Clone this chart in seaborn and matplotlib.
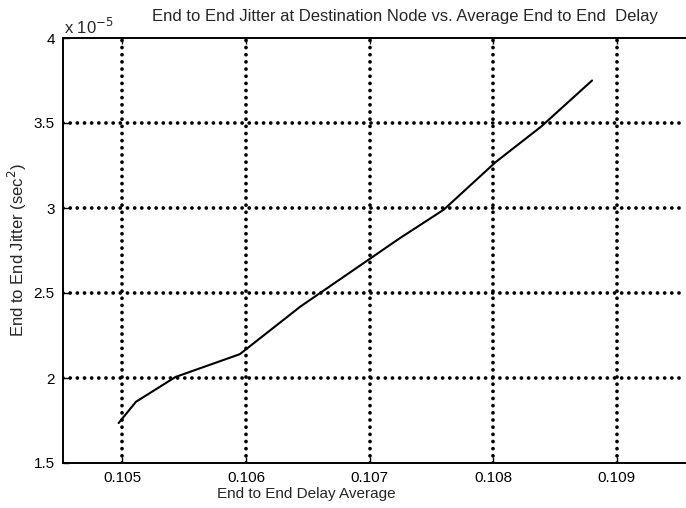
import matplotlib
matplotlib.use("Agg")
import matplotlib.pyplot as plt
import seaborn as sns
import pandas as pd
from matplotlib.ticker import FormatStrFormatter, FixedLocator

# Data (jitter in units of 1e-5 sec^2)
delay_avg = [0.10497, 0.10511, 0.10543, 0.10595, 0.10602, 0.10644, 0.10700,
             0.10724, 0.10760, 0.10802, 0.10839, 0.10880]
jitter = [1.735, 1.86, 2.006, 2.14, 2.18, 2.42, 2.70, 2.82, 2.99, 3.27, 3.48, 3.75]
x_ticks = [0.105, 0.106, 0.107, 0.108, 0.109]
y_ticks = [1.5, 2.0, 2.5, 3.0, 3.5, 4.0]

sns.set_style("white")
plt.rcParams['font.family'] = ['Liberation Sans', 'DejaVu Sans']

fig = plt.figure(figsize=(6.86, 5.08), dpi=100)
ax = fig.add_axes([63/686, 1-463/508, 1-63/686, (463-38)/508])

df = pd.DataFrame({"x": delay_avg, "y": jitter})
sns.lineplot(data=df, x="x", y="y", ax=ax, color="black", linewidth=1.5, sort=False,
             zorder=3)

ax.set_xlim(0.10452, 0.10956)
ax.set_ylim(1.5, 4.0)
ax.xaxis.set_major_locator(FixedLocator(x_ticks))
ax.yaxis.set_major_locator(FixedLocator(y_ticks))
ax.xaxis.set_major_formatter(FormatStrFormatter('%g'))
ax.yaxis.set_major_formatter(FormatStrFormatter('%g'))

grid_style = dict(color="black", linestyle=(0, (0.01, 1.9)), linewidth=2.7,
                  dash_capstyle="round", zorder=1)
for xv in x_ticks:
    ax.axvline(xv, **grid_style)
for yv in y_ticks[1:-1]:
    ax.axhline(yv, **grid_style)

ax.tick_params(direction="in", length=4, width=1, colors="black",
               labelsize=11, pad=6, top=True, bottom=True, left=True, right=False)
for s in ["left", "bottom", "top"]:
    ax.spines[s].set_color("black")
    ax.spines[s].set_linewidth(1.4)
    ax.spines[s].set_zorder(4)
ax.spines["right"].set_visible(False)

ax.set_xlabel("")
ax.set_ylabel("")
fig.text(306/686, 1-494/508, "End to End Delay Average", ha="center", va="center", fontsize=11)
fig.text(17/686, 1-250/508, "End to End Jitter (sec$^2$)", ha="center", va="center",
         rotation=90, fontsize=12)
fig.text(405/686, 1-16/508, "End to End Jitter at Destination Node vs. Average End to End  Delay",
         ha="center", va="center", fontsize=12)
fig.text(64/686, 1-27/508, "x 10$^{-5}$", ha="left", va="center", fontsize=12)

fig.savefig("out.png", dpi=100)
